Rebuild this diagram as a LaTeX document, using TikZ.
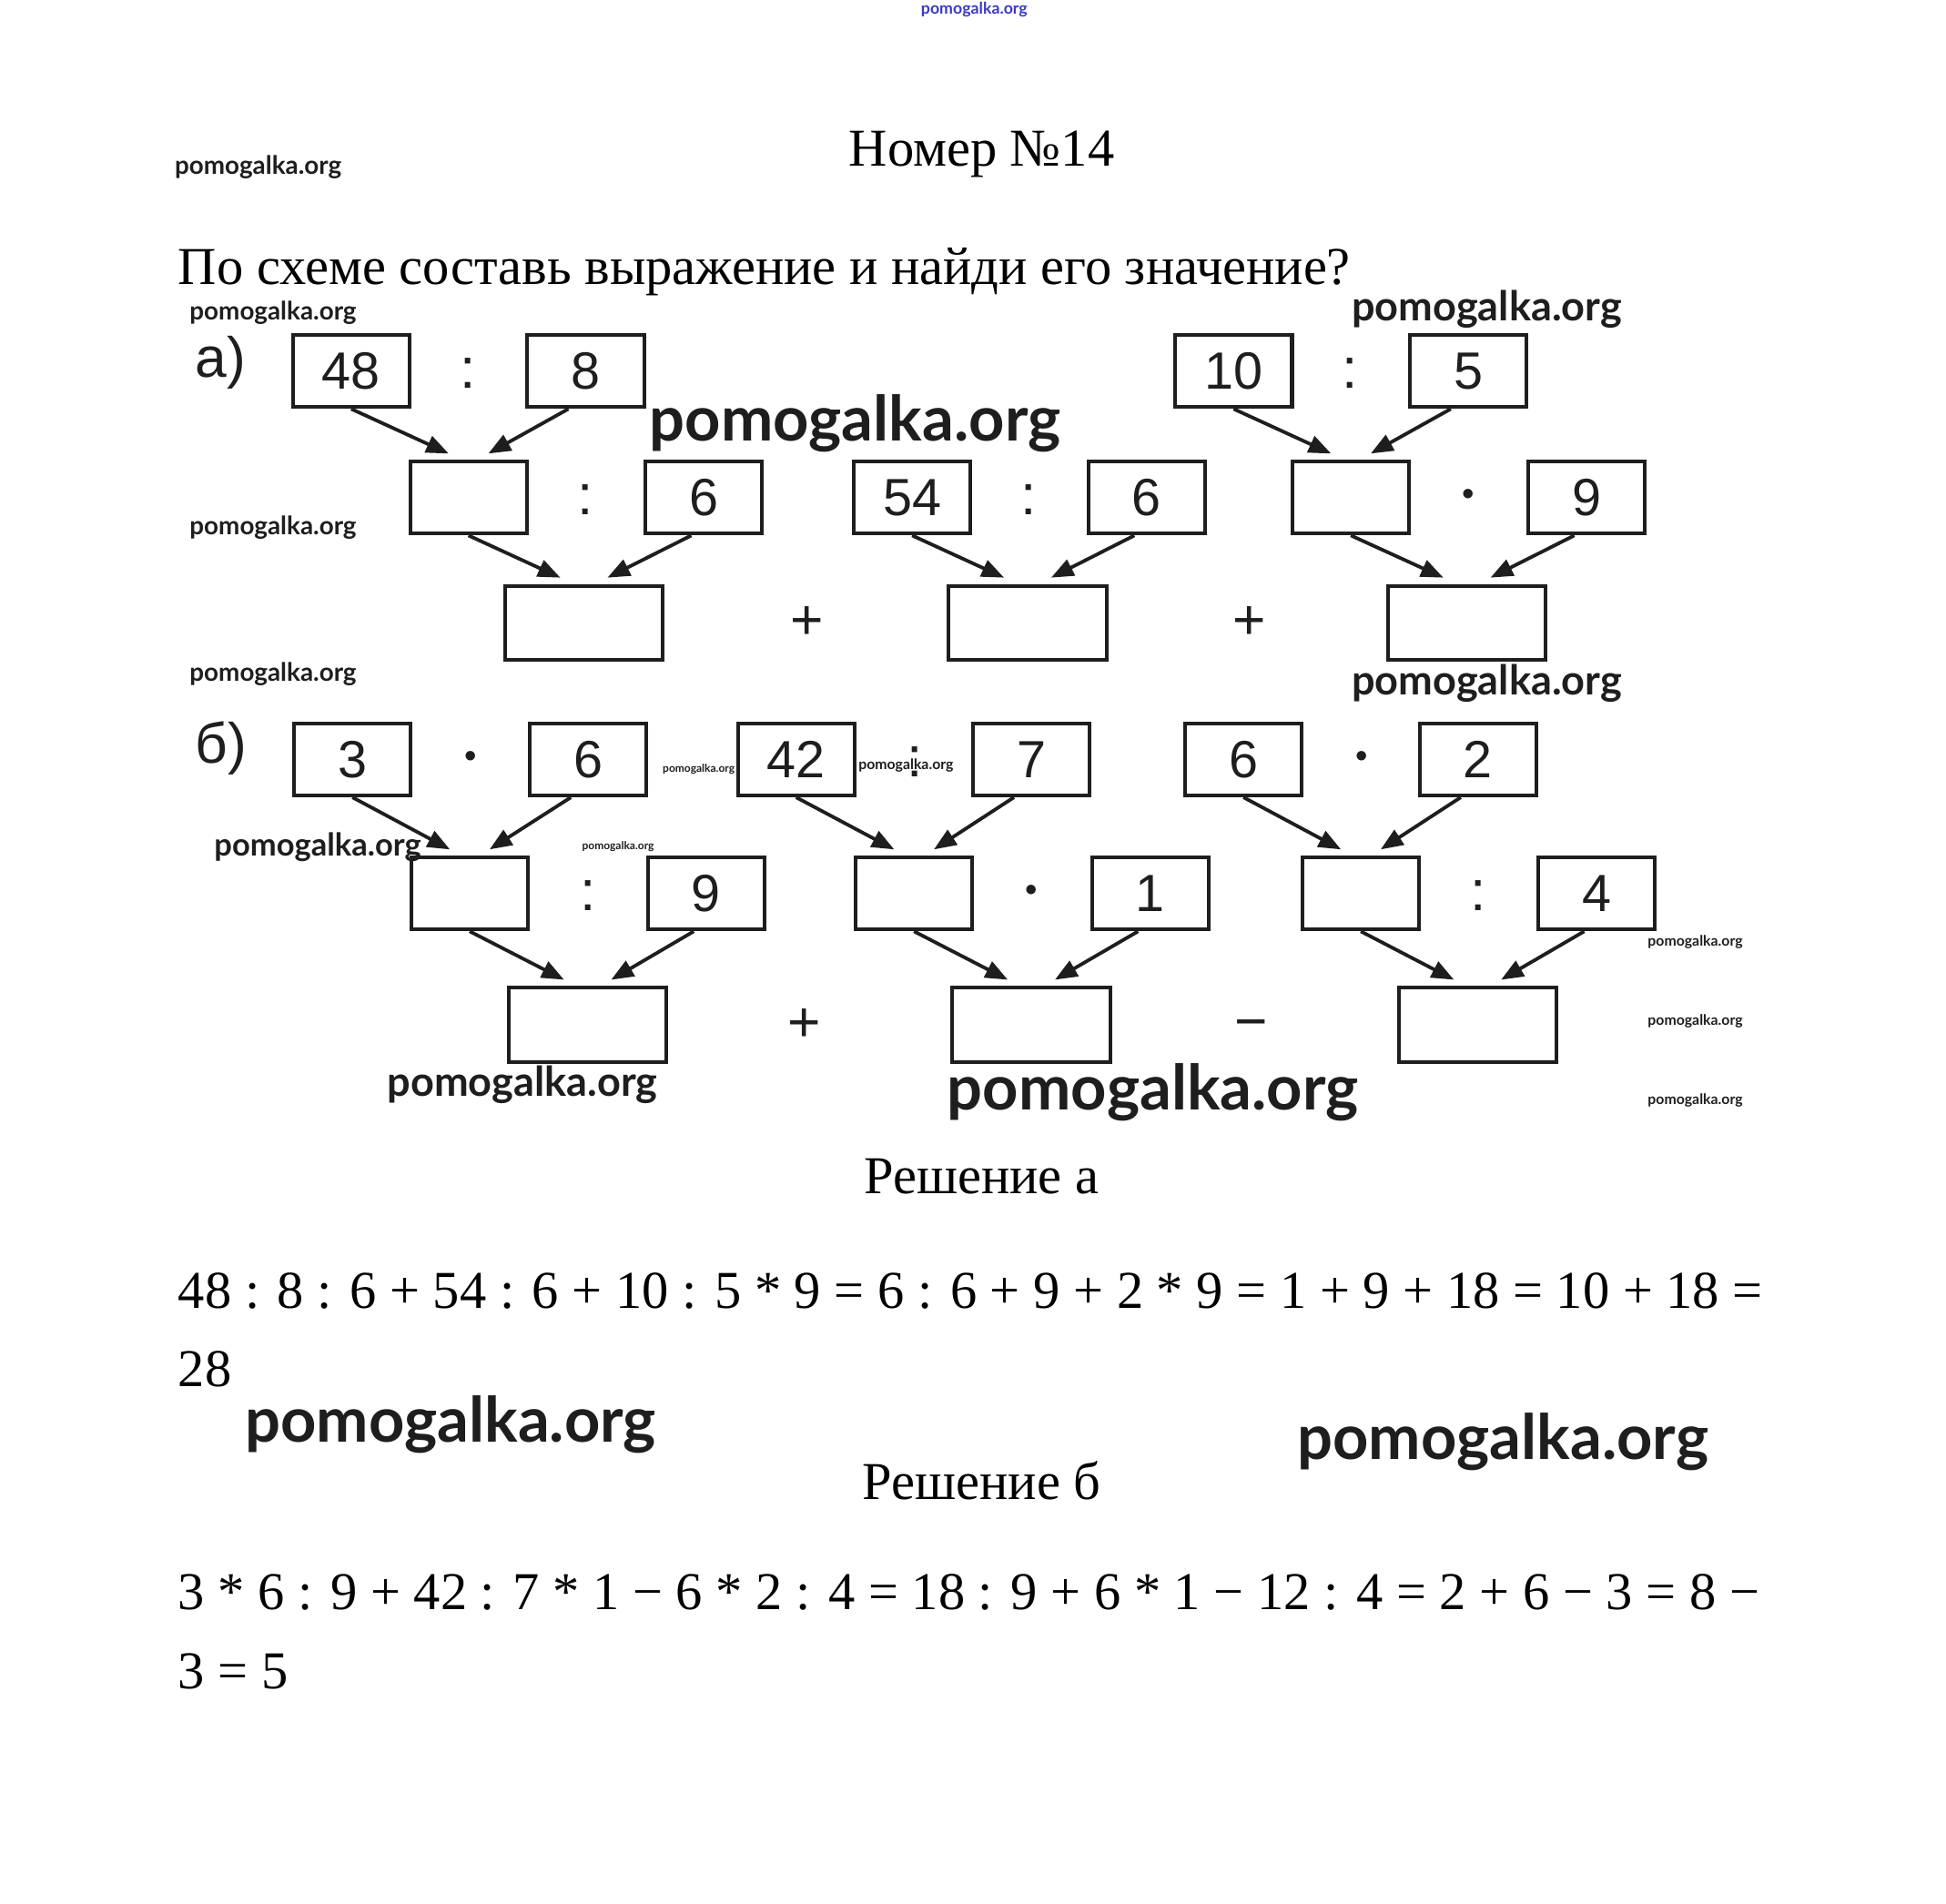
\documentclass[tikz,border=0pt]{standalone}
\usepackage{fontspec}
\setmainfont{Liberation Serif}
\newfontfamily\cifry{Liberation Sans}
\newfontfamily\znak{Lato}
\usetikzlibrary{arrows.meta}
\definecolor{chernila}{HTML}{1E1E1E}
\definecolor{sinii}{HTML}{3A3AC8}

\begin{document}
\begin{tikzpicture}[x=0.01cm, y=-0.01cm,
  kletka/.style={draw=chernila, line width=0.85pt, minimum width=0.94cm, minimum height=0.58cm,
                 inner sep=0pt, text=chernila, font=\cifry\fontsize{12}{12}\selectfont},
  otvet/.style={kletka, minimum width=1.27cm, minimum height=0.6cm},
  deistvie/.style={inner sep=0pt, text=chernila, font=\cifry\fontsize{13}{13}\selectfont},
  tochka/.style={inner sep=0pt, text=chernila, font=\cifry\fontsize{8}{8}\selectfont},
  strelka/.style={-{Triangle[length=0.18cm,width=0.14cm]}, line width=0.8pt, chernila},
  tekst/.style={inner sep=0pt, font=\fontsize{12.2}{14}\selectfont},
  vz/.style={inner sep=0pt, text=chernila, font=\znak\bfseries\fontsize{#1}{#1}\selectfont}]
\path[fill=white] (0,0) rectangle (1568,1534);

% заголовок и условие
\node[tekst] (nomer) at (791,124) {Номер №14};
\node[tekst, anchor=west] (uslovie) at (143,219) {По схеме составь выражение и найди его значение?};

% схема а)
\node[deistvie] (metkaA) at (178,292) {а)};
\node[kletka] (a48) at (283,299) {48};
\node[deistvie] (da1) at (377,301) {:};
\node[kletka] (a8) at (472,299) {8};
\node[kletka] (a10) at (994,299) {10};
\node[deistvie] (da2) at (1088,301) {:};
\node[kletka] (a5) at (1183,299) {5};
\node[kletka] (ap1) at (377.5,401) {};
\node[deistvie] (da3) at (472,403) {:};
\node[kletka] (a6) at (567,401) {6};
\node[kletka] (a54) at (735,401) {54};
\node[deistvie] (da4) at (829,403) {:};
\node[kletka] (a6r) at (924,401) {6};
\node[kletka] (ap2) at (1088.5,401) {};
\node[tochka] (da5) at (1183,401) {•};
\node[kletka] (a9) at (1278.5,401) {9};
\node[otvet] (ar1) at (470.5,502) {};
\node[deistvie] (da6) at (650,502) {+};
\node[otvet] (ar2) at (828,502) {};
\node[deistvie] (da7) at (1007,502) {+};
\node[otvet] (ar3) at (1182,502) {};
\draw[strelka] (a48.south) -- ([shift={(-16,-5)}]ap1.north);
\draw[strelka] ([shift={(-14,0)}]a8.south) -- ([shift={(16,-5)}]ap1.north);
\draw[strelka] (ap1.south) -- ([shift={(-19,-5)}]ar1.north);
\draw[strelka] ([shift={(-10,0)}]a6.south) -- ([shift={(19,-5)}]ar1.north);
\draw[strelka] (a54.south) -- ([shift={(-19,-5)}]ar2.north);
\draw[strelka] ([shift={(-10,0)}]a6r.south) -- ([shift={(19,-5)}]ar2.north);
\draw[strelka] (a10.south) -- ([shift={(-16,-5)}]ap2.north);
\draw[strelka] ([shift={(-14,0)}]a5.south) -- ([shift={(16,-5)}]ap2.north);
\draw[strelka] (ap2.south) -- ([shift={(-19,-5)}]ar3.north);
\draw[strelka] ([shift={(-10,0)}]a9.south) -- ([shift={(19,-5)}]ar3.north);

% схема б)
\node[deistvie] (metkaB) at (178,603) {б)};
\node[kletka] (b3) at (284,612) {3};
\node[tochka] (db1) at (379,612) {•};
\node[kletka] (b6) at (474,612) {6};
\node[kletka] (b42) at (641.5,612) {42};
\node[deistvie] (db2) at (737,614) {:};
\node[kletka] (b7) at (831,612) {7};
\node[kletka] (b6r) at (1002,612) {6};
\node[tochka] (db3) at (1097,612) {•};
\node[kletka] (b2) at (1191,612) {2};
\node[kletka] (bp1) at (378.5,720) {};
\node[deistvie] (db4) at (474,722) {:};
\node[kletka] (b9) at (569,720) {9};
\node[kletka] (bp2) at (736.5,720) {};
\node[tochka] (db5) at (831,720) {•};
\node[kletka] (b1) at (927,720) {1};
\node[kletka] (bp3) at (1096.5,720) {};
\node[deistvie] (db6) at (1191,722) {:};
\node[kletka] (b4) at (1286.5,720) {4};
\node[otvet] (br1) at (473.5,826) {};
\node[deistvie] (db7) at (648,826) {+};
\node[otvet] (br2) at (831,826) {};
\node[deistvie] (db8) at (1008,830) {−};
\node[otvet] (br3) at (1190.5,826) {};
\draw[strelka] (b3.south) -- ([shift={(-16,-5)}]bp1.north);
\draw[strelka] ([shift={(-14,0)}]b6.south) -- ([shift={(16,-5)}]bp1.north);
\draw[strelka] (bp1.south) -- ([shift={(-19,-5)}]br1.north);
\draw[strelka] ([shift={(-10,0)}]b9.south) -- ([shift={(19,-5)}]br1.north);
\draw[strelka] (b42.south) -- ([shift={(-16,-5)}]bp2.north);
\draw[strelka] ([shift={(-14,0)}]b7.south) -- ([shift={(16,-5)}]bp2.north);
\draw[strelka] (bp2.south) -- ([shift={(-19,-5)}]br2.north);
\draw[strelka] ([shift={(-10,0)}]b1.south) -- ([shift={(19,-5)}]br2.north);
\draw[strelka] (b6r.south) -- ([shift={(-16,-5)}]bp3.north);
\draw[strelka] ([shift={(-14,0)}]b2.south) -- ([shift={(16,-5)}]bp3.north);
\draw[strelka] (bp3.south) -- ([shift={(-19,-5)}]br3.north);
\draw[strelka] ([shift={(-10,0)}]b4.south) -- ([shift={(19,-5)}]br3.north);

% решения
\node[tekst] (reshA) at (791,948) {Решение а};
\node[tekst, anchor=west] (strA1) at (143,1040) {48 : 8 : 6 + 54 : 6 + 10 : 5 * 9 = 6 : 6 + 9 + 2 * 9 = 1 + 9 + 18 = 10 + 18 =};
\node[tekst, anchor=west] (strA2) at (143,1103) {28};
\node[tekst] (reshB) at (791,1193) {Решение б};
\node[tekst, anchor=west] (strB1) at (143,1283) {3 * 6 : 9 + 42 : 7 * 1 − 6 * 2 : 4 = 18 : 9 + 6 * 1 − 12 : 4 = 2 + 6 − 3 = 8 −};
\node[tekst, anchor=west] (strB2) at (143,1347) {3 = 5};

% водяные знаки
\node[vz=3.7, text=sinii] (vz0) at (785,8) {pomogalka.org};
\node[vz=5.8] (vz1) at (208,135) {pomogalka.org};
\node[vz=5.8] (vz2) at (220,252) {pomogalka.org};
\node[vz=9.4] (vz3) at (1198,249) {pomogalka.org};
\node[vz=14.3] (vz4) at (689,341) {pomogalka.org};
\node[vz=5.8] (vz5) at (220,425) {pomogalka.org};
\node[vz=5.8] (vz6) at (220,543) {pomogalka.org};
\node[vz=9.4] (vz7) at (1198,551) {pomogalka.org};
\node[vz=2.5] (vz8) at (563,620) {pomogalka.org};
\node[vz=3.3] (vz9) at (730,617) {pomogalka.org};
\node[vz=7.2] (vz10) at (256,683) {pomogalka.org};
\node[vz=2.5] (vz11) at (498,682) {pomogalka.org};
\node[vz=3.3] (vz12) at (1366,759) {pomogalka.org};
\node[vz=3.3] (vz13) at (1366,823) {pomogalka.org};
\node[vz=3.3] (vz14) at (1366,887) {pomogalka.org};
\node[vz=9.4] (vz15) at (421,874) {pomogalka.org};
\node[vz=14.3] (vz16) at (929,880) {pomogalka.org};
\node[vz=14.3] (vz17) at (363,1148) {pomogalka.org};
\node[vz=14.3] (vz18) at (1211,1162) {pomogalka.org};
\end{tikzpicture}
\end{document}
